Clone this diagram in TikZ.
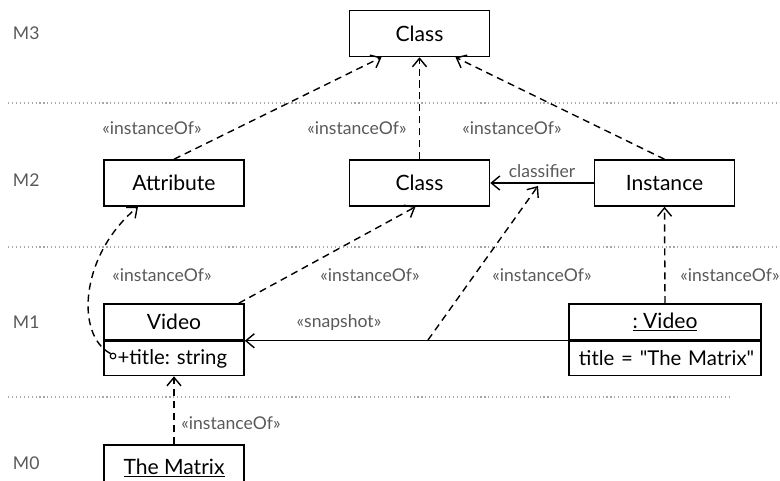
\documentclass[tikz,border=0pt]{standalone}
\usepackage{fontspec}
\setmainfont{Lato}
\newfontfamily\rawlato{Lato}
\usetikzlibrary{arrows.meta}
\frenchspacing

\tikzset{
  box/.style={draw, line width=1.1pt, minimum width=3.5cm, minimum height=1.15cm,
    inner sep=0pt, font=\fontsize{15}{17}\selectfont},
  head/.style={box, minimum height=0.9cm},
  body/.style={draw, line width=1.1pt, minimum height=0.85cm, inner sep=0pt,
    align=left, font=\fontsize{14.5}{17}\selectfont},
  dep/.style={line width=1pt, dash pattern=on 5pt off 3.5pt,
    -{Straight Barb[length=6pt,width=10pt]}},
  assoc/.style={line width=1pt, -{Straight Barb[length=6pt,width=10pt]}},
  lbl/.style={text=black!65, font=\fontsize{12.5}{14}\selectfont},
  layer/.style={text=black!65, anchor=west, font=\fontsize{12.5}{14}\selectfont},
  divider/.style={draw=black!35, line width=0.8pt, dotted}
}

\begin{document}
\begin{tikzpicture}[x=0.025cm, y=-0.025cm]
  \useasboundingbox (0,0) rectangle (780,480);

  % layer separators
  \draw[divider] (8,103) -- (780,103);
  \draw[divider] (8,247) -- (780,247);
  \draw[divider] (8,397) -- (729,397);

  \node[layer] (m3) at (8,33) {M3};
  \node[layer] (m2) at (8,180) {M2};
  \node[layer] (m1) at (8,322) {M1};
  \node[layer] (m0) at (8,463) {M0};

  % boxes
  \node[box] (cls3) at (419.5,33.5) {Class};
  \node[box] (attr) at (174,183) {Attribute};
  \node[box] (cls2) at (419.5,183) {Class};
  \node[box] (inst) at (664.5,183) {Instance};
  \node[head] (vid) at (174,322) {Video};
  \node[body, text width=3.5cm, anchor=north] (vidattr)
    at (vid.south) {\hspace*{0.34cm}+title: string};
  \node[head, minimum width=4.8cm] (ovid) at (665,322) {\underline{: Video}};
  \node[body, text width=4.8cm, anchor=north] (ovidattr)
    at (ovid.south) {\hspace*{0.25cm}\rawlato title = "The Matrix"};
  \node[box] (matrix) at (174,468) {\underline{The Matrix}};

  \node[draw, circle, line width=0.8pt, inner sep=0pt, minimum size=4pt] (own)
    at (113,356) {};
  \coordinate (snap) at (428,340);
  \coordinate (clsf) at (538,186);

  % connectors
  \draw[dep] (attr.north) -- ([xshift=-0.95cm]cls3.south);
  \draw[dep] (cls2.north) -- (cls3.south);
  \draw[dep] (inst.north) -- ([xshift=0.9cm]cls3.south);
  \draw[assoc] (inst.west) -- node[lbl, above, pos=0.5] (clslbl) {classifier} (cls2.east);
  \draw[dep] ([xshift=-0.15cm]vid.north east) -- ([xshift=-0.1cm]cls2.south);
  \draw[assoc] (ovid.south west) -- (vid.south east);
  \draw[dep] (snap) -- (clsf);
  \draw[dep] (ovid.north) -- (inst.south);
  \draw[dep] (matrix.north) -- (vidattr.south);
  \draw[dep] (own.north west) .. controls (75,335) and (80,255) .. ([xshift=-0.9cm]attr.south);

  % stereotypes
  \node[lbl] (l1) at (152,128) {«instanceOf»};
  \node[lbl] (l2) at (357,128) {«instanceOf»};
  \node[lbl] (l3) at (512,128) {«instanceOf»};
  \node[lbl] (l4) at (162,275) {«instanceOf»};
  \node[lbl] (l5) at (370,275) {«instanceOf»};
  \node[lbl] (l6) at (542,275) {«instanceOf»};
  \node[lbl] (l7) at (730,275) {«instanceOf»};
  \node[lbl] (l8) at (231,423) {«instanceOf»};
  \node[lbl] (l9) at (339,323) {«snapshot»};
\end{tikzpicture}
\end{document}
